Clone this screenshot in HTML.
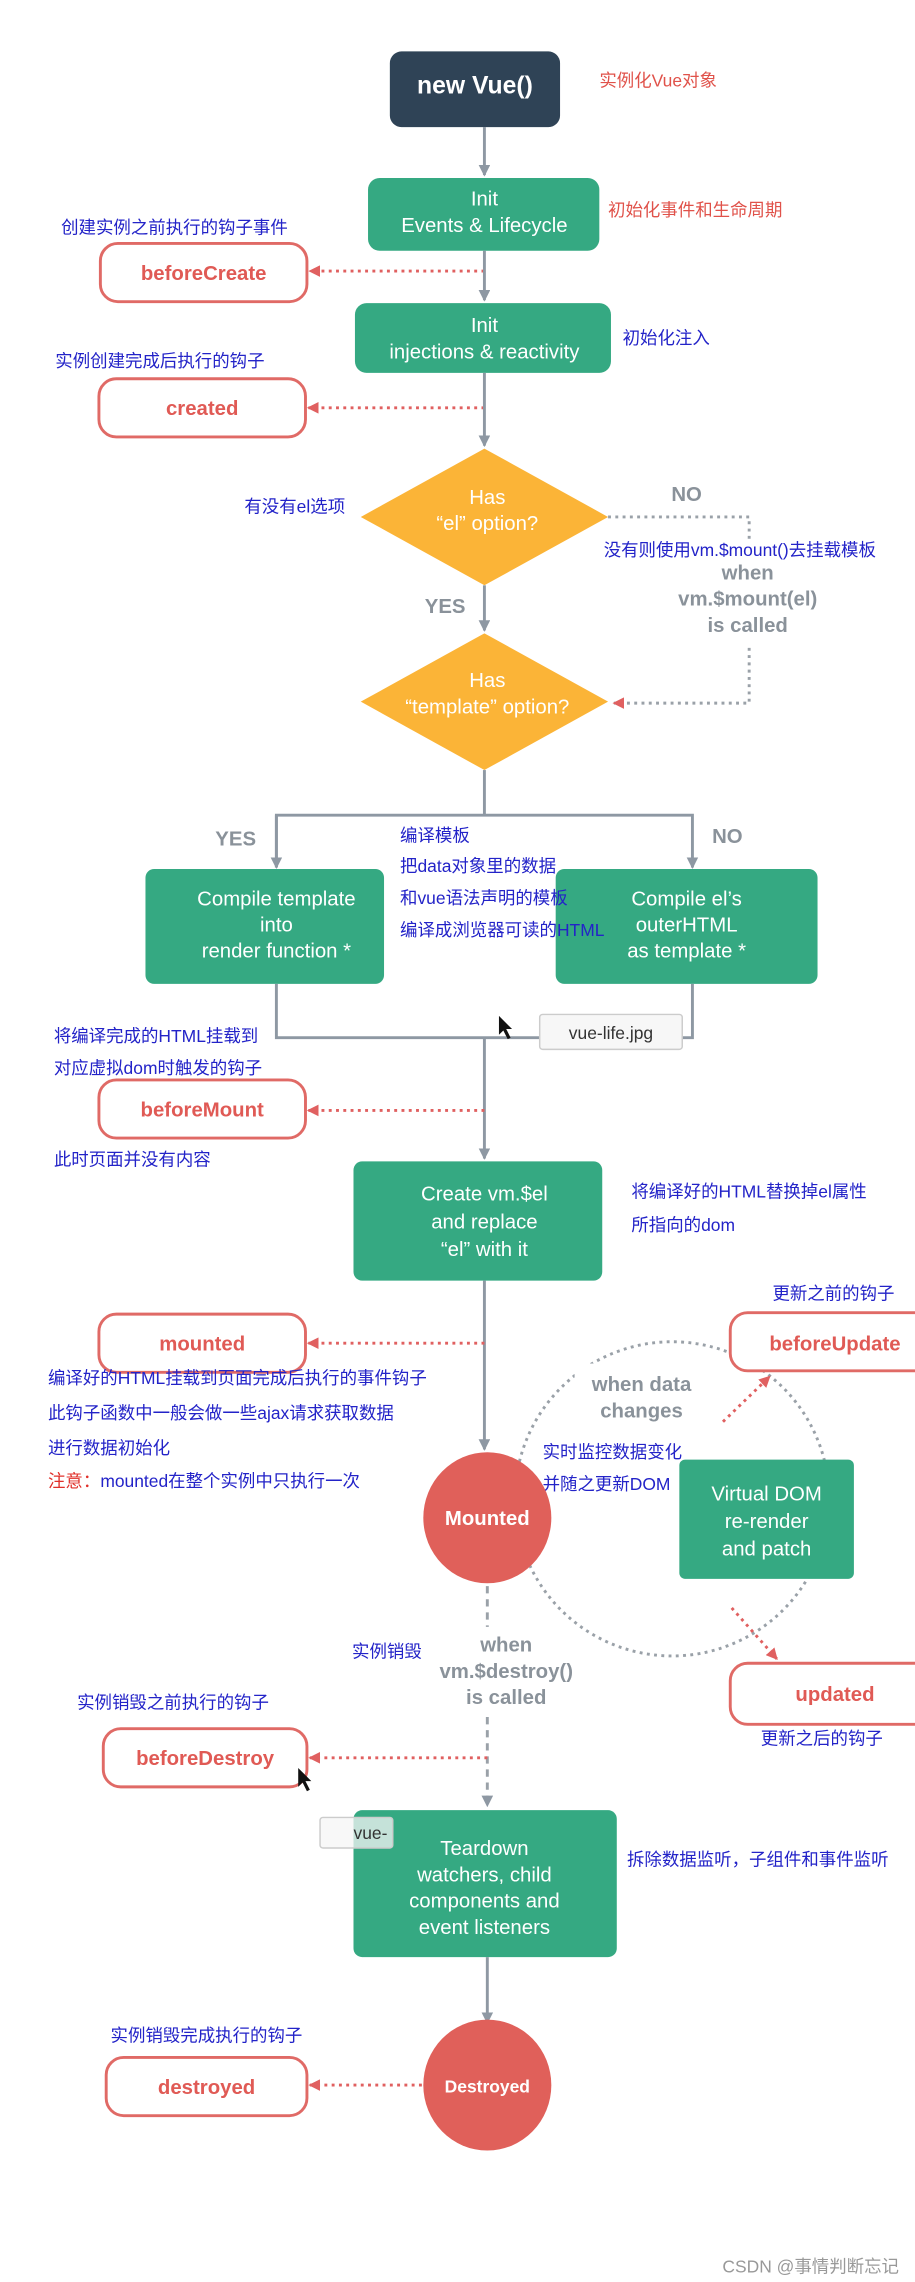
<!DOCTYPE html>
<html><head><meta charset="utf-8"><style>
html,body{margin:0;padding:0;background:#fff;width:915px;height:2282px;overflow:hidden}
svg{display:block}
text{font-family:"Liberation Sans","Noto Sans CJK SC",sans-serif}
.w{fill:#fff;font-size:14px;text-anchor:middle}
.r{fill:#e05a55;font-size:14px;font-weight:bold;text-anchor:middle}
.b{fill:#2323c8;font-size:12px}
.rd{fill:#e0524a;font-size:12px}
.g{fill:#8a929a;font-size:14px;font-weight:bold;text-anchor:middle}
.hook{fill:#fff;stroke:#e06a66;stroke-width:2}
.grn{fill:#35a982}
.ln{stroke:#8e98a3;stroke-width:2;fill:none}
.rdl{stroke:#e06060;stroke-width:2;stroke-dasharray:2 3;fill:none}
.gdl{stroke:#9aa1a8;stroke-width:2;stroke-dasharray:2 3;fill:none}
</style></head><body>
<svg width="915" height="2282" viewBox="0 0 629 1568" xmlns="http://www.w3.org/2000/svg">
<defs>
<marker id="ag" markerWidth="8" markerHeight="8" refX="7" refY="4" orient="auto" markerUnits="userSpaceOnUse"><path d="M0,0 L8,4 L0,8z" fill="#8e98a3"/></marker>
<marker id="ar" markerWidth="8" markerHeight="8" refX="7" refY="4" orient="auto" markerUnits="userSpaceOnUse"><path d="M0,0 L8,4 L0,8z" fill="#e06060"/></marker>
</defs>
<rect x="268" y="35" width="117" height="52" rx="8" fill="#2f4356"/>
<text x="326.5" y="64" fill="#fff" font-size="17" font-weight="bold" text-anchor="middle">new Vue()</text>
<text x="412" y="59" class="rd">实例化Vue对象</text>
<line x1="333" y1="87" x2="333" y2="120" class="ln" marker-end="url(#ag)"/>
<rect x="253" y="122" width="159" height="50" rx="8" class="grn"/>
<text x="333" y="141" class="w">Init</text><text x="333" y="159" class="w">Events &amp; Lifecycle</text>
<text x="418" y="148" class="rd">初始化事件和生命周期</text>
<text x="42" y="160" class="b">创建实例之前执行的钩子事件</text>
<rect x="69" y="167" width="142" height="40" rx="12" class="hook"/>
<text x="140" y="192" class="r">beforeCreate</text>
<line x1="333" y1="186" x2="213" y2="186" class="rdl" marker-end="url(#ar)"/>
<line x1="333" y1="172" x2="333" y2="206" class="ln" marker-end="url(#ag)"/>
<rect x="244" y="208" width="176" height="48" rx="8" class="grn"/>
<text x="333" y="228" class="w">Init</text><text x="333" y="246" class="w">injections &amp; reactivity</text>
<text x="428" y="236" class="b">初始化注入</text>
<text x="38" y="252" class="b">实例创建完成后执行的钩子</text>
<rect x="68" y="260" width="142" height="40" rx="12" class="hook"/>
<text x="139" y="285" class="r">created</text>
<line x1="333" y1="280" x2="212" y2="280" class="rdl" marker-end="url(#ar)"/>
<line x1="333" y1="256" x2="333" y2="306" class="ln" marker-end="url(#ag)"/>
<polygon points="333,308 418,355 333,402 248,355" fill="#fbb437"/>
<text x="335" y="346" class="w">Has</text><text x="335" y="364" class="w">“el” option?</text>
<text x="168" y="352" class="b">有没有el选项</text>
<text x="472" y="344" class="g">NO</text>
<polyline points="418,355 515,355 515,372" class="gdl"/>
<text x="415" y="382" class="b">没有则使用vm.$mount()去挂载模板</text>
<text x="514" y="398" class="g">when</text><text x="514" y="416" class="g">vm.$mount(el)</text><text x="514" y="434" class="g">is called</text>
<polyline points="515,445 515,483 422,483" class="gdl" marker-end="url(#ar)" style="stroke:#9aa1a8"/>
<text x="306" y="421" class="g">YES</text>
<line x1="333" y1="402" x2="333" y2="433" class="ln" marker-end="url(#ag)"/>
<polygon points="333,435 418,482 333,529 248,482" fill="#fbb437"/>
<text x="335" y="472" class="w">Has</text><text x="335" y="490" class="w">“template” option?</text>
<line x1="333" y1="529" x2="333" y2="560" class="ln"/>
<polyline points="190,596 190,560 476,560 476,596" class="ln" marker-end="url(#ag)"/>
<line x1="190" y1="560" x2="190" y2="596" class="ln" marker-end="url(#ag)"/>
<text x="162" y="581" class="g">YES</text><text x="500" y="579" class="g">NO</text>
<rect x="100" y="597" width="164" height="79" rx="6" class="grn"/>
<text x="190" y="622" class="w">Compile template</text><text x="190" y="640" class="w">into</text><text x="190" y="658" class="w">render function *</text>
<rect x="382" y="597" width="180" height="79" rx="6" class="grn"/>
<text x="472" y="622" class="w">Compile el’s</text><text x="472" y="640" class="w">outerHTML</text><text x="472" y="658" class="w">as template *</text>
<text x="275" y="578" class="b">编译模板</text>
<text x="275" y="599" class="b">把data对象里的数据</text>
<text x="275" y="621" class="b">和vue语法声明的模板</text>
<text x="275" y="643" class="b">编译成浏览器可读的HTML</text>
<polyline points="190,676 190,713 476,713 476,676" class="ln"/>
<line x1="333" y1="713" x2="333" y2="796" class="ln" marker-end="url(#ag)"/>
<rect x="371" y="697" width="98" height="24" rx="2" fill="#f7f7f7" stroke="#ccc"/>
<text x="420" y="714" font-family="Liberation Mono,monospace" font-size="12" text-anchor="middle" fill="#333">vue-life.jpg</text>
<path d="M343,698 l0,13 l3,-3 l3,6 l2,-1 l-3,-6 l4,0z" fill="#111"/>
<text x="37" y="716" class="b">将编译完成的HTML挂载到</text>
<text x="37" y="738" class="b">对应虚拟dom时触发的钩子</text>
<rect x="68" y="742" width="142" height="40" rx="12" class="hook"/>
<text x="139" y="767" class="r">beforeMount</text>
<line x1="333" y1="763" x2="212" y2="763" class="rdl" marker-end="url(#ar)"/>
<text x="37" y="801" class="b">此时页面并没有内容</text>
<rect x="243" y="798" width="171" height="82" rx="6" class="grn"/>
<text x="333" y="825" class="w">Create vm.$el</text><text x="333" y="844" class="w">and replace</text><text x="333" y="863" class="w">“el” with it</text>
<text x="434" y="823" class="b">将编译好的HTML替换掉el属性</text>
<text x="434" y="846" class="b">所指向的dom</text>
<line x1="333" y1="880" x2="333" y2="996" class="ln" marker-end="url(#ag)"/>
<rect x="68" y="903" width="142" height="40" rx="12" class="hook"/>
<text x="139" y="928" class="r">mounted</text>
<line x1="333" y1="923" x2="212" y2="923" class="rdl" marker-end="url(#ar)"/>
<text x="33" y="951" class="b">编译好的HTML挂载到页面完成后执行的事件钩子</text>
<text x="33" y="975" class="b">此钩子函数中一般会做一些ajax请求获取数据</text>
<text x="33" y="999" class="b">进行数据初始化</text>
<text x="33" y="1022" class="b"><tspan fill="#e0302a">注意：</tspan>mounted在整个实例中只执行一次</text>
<circle cx="462" cy="1030" r="108" class="gdl"/>
<rect x="395" y="937" width="92" height="42" fill="#fff"/>
<text x="441" y="956" class="g">when data</text><text x="441" y="974" class="g">changes</text>
<rect x="371" y="985" width="96" height="42" fill="#fff"/>
<text x="373" y="1002" class="b">实时监控数据变化</text>
<text x="373" y="1024" class="b">并随之更新DOM</text>
<rect x="467" y="1003" width="120" height="82" rx="4" class="grn"/>
<text x="527" y="1031" class="w">Virtual DOM</text><text x="527" y="1050" class="w">re-render</text><text x="527" y="1069" class="w">and patch</text>
<text x="531" y="893" class="b">更新之前的钩子</text>
<rect x="502" y="902" width="140" height="40" rx="12" class="hook"/>
<text x="574" y="928" class="r">beforeUpdate</text>
<line x1="497" y1="977" x2="529" y2="946" class="rdl" marker-end="url(#ar)"/>
<rect x="502" y="1143" width="140" height="42" rx="12" class="hook"/>
<text x="574" y="1169" class="r">updated</text>
<line x1="503" y1="1105" x2="534" y2="1140" class="rdl" marker-end="url(#ar)"/>
<text x="523" y="1199" class="b">更新之后的钩子</text>
<ellipse cx="335" cy="1043" rx="44" ry="45" fill="#e0605a"/>
<text x="335" y="1048" fill="#fff" font-size="14" font-weight="bold" text-anchor="middle">Mounted</text>
<line x1="335" y1="1090" x2="335" y2="1118" class="gdl" style="stroke-dasharray:5 4"/>
<text x="242" y="1139" class="b">实例销毁</text>
<text x="348" y="1135" class="g">when</text><text x="348" y="1153" class="g">vm.$destroy()</text><text x="348" y="1171" class="g">is called</text>
<line x1="335" y1="1180" x2="335" y2="1241" class="gdl" style="stroke-dasharray:5 4" marker-end="url(#ag)"/>
<text x="53" y="1174" class="b">实例销毁之前执行的钩子</text>
<rect x="71" y="1188" width="140" height="40" rx="12" class="hook"/>
<text x="141" y="1213" class="r">beforeDestroy</text>
<line x1="335" y1="1208" x2="213" y2="1208" class="rdl" marker-end="url(#ar)"/>
<path d="M205,1215 l0,13 l3,-3 l3,6 l2,-1 l-3,-6 l4,0z" fill="#111"/>
<rect x="243" y="1244" width="181" height="101" rx="6" class="grn"/>
<text x="333" y="1275" class="w">Teardown</text><text x="333" y="1293" class="w">watchers, child</text><text x="333" y="1311" class="w">components and</text><text x="333" y="1329" class="w">event listeners</text>
<rect x="220" y="1249" width="50" height="21" rx="2" fill="#f5f5f5" fill-opacity="0.75" stroke="#ccc"/>
<text x="243" y="1264" font-family="Liberation Mono,monospace" font-size="12" fill="#333">vue-</text>
<text x="431" y="1282" class="b">拆除数据监听，子组件和事件监听</text>
<line x1="335" y1="1345" x2="335" y2="1390" class="ln" marker-end="url(#ag)"/>
<text x="76" y="1403" class="b">实例销毁完成执行的钩子</text>
<rect x="73" y="1414" width="138" height="40" rx="12" class="hook"/>
<text x="142" y="1439" class="r">destroyed</text>
<line x1="290" y1="1433" x2="213" y2="1433" class="rdl" marker-end="url(#ar)"/>
<ellipse cx="335" cy="1433" rx="44" ry="45" fill="#e0605a"/>
<text x="335" y="1438" fill="#fff" font-size="12" font-weight="bold" text-anchor="middle">Destroyed</text>
<text x="618" y="1562" fill="#999" font-size="12" text-anchor="end">CSDN @事情判断忘记</text>
</svg>
</body></html>
